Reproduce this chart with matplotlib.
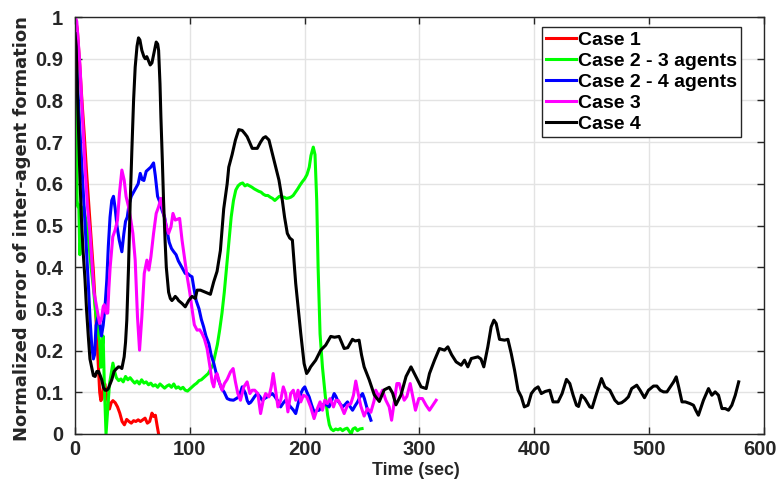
import matplotlib
matplotlib.use("Agg")
import matplotlib.pyplot as plt
import matplotlib.transforms as mtransforms

plt.rcParams['font.family'] = ['Liberation Sans', 'DejaVu Sans']
plt.rcParams['font.weight'] = 'bold'

# ---- data: time (sec) and normalized inter-agent formation error ----
case1_t = [0, 2, 4, 6, 8, 10, 12, 14, 16, 18, 20, 21.5, 22.5, 23.5, 24.5, 26, 27, 28.5, 30,
           31.5, 33, 35, 37, 39, 41, 43, 45, 47, 49, 51, 53, 55, 57, 59, 61, 63, 65, 67,
           68.5, 70, 71.5, 72.8]
case1_v = [1.0, 0.97, 0.89, 0.80, 0.72, 0.63, 0.55, 0.47, 0.39, 0.29, 0.18, 0.10, 0.08,
           0.085, 0.11, 0.12, 0.10, 0.08, 0.06, 0.075, 0.08, 0.075, 0.065, 0.05, 0.03,
           0.022, 0.035, 0.03, 0.026, 0.032, 0.03, 0.034, 0.03, 0.034, 0.038, 0.026, 0.03,
           0.05, 0.042, 0.045, 0.02, 0.0]

case2a_t = [0, 1, 1.8, 2.5, 3.3, 4.2, 5, 6, 7.5, 9, 10.5, 12, 14, 16, 18, 20, 21.5, 22.5,
            23.5, 24.5, 25.5, 27, 28.5, 30, 31.5, 33, 34.5, 36, 38, 40, 42, 44, 46, 48, 50,
            52, 54, 56, 58, 60, 62, 64, 66, 68, 70, 72, 74, 76, 78, 80, 82, 84, 86, 88, 90,
            92, 94, 96, 98, 100, 102, 104, 106, 108, 110, 112, 114, 116, 118, 120, 122, 124,
            126, 128, 130, 132, 134, 136, 138, 140, 142, 144, 146, 148, 150, 152, 154, 156,
            158, 160, 162, 164, 166, 168, 170, 172, 174, 176, 178, 180, 182, 184, 186, 188,
            190, 192, 194, 196, 198, 200, 202, 204, 205.5, 207.5, 209, 210.5, 211.7, 213.4,
            215.5, 218, 220, 221.5, 223, 225, 227, 229, 231, 233, 235, 237, 239, 240.5, 242,
            244, 246, 248, 250]
case2a_v = [1.0, 0.99, 0.56, 0.545, 0.55, 0.43, 0.47, 0.53, 0.545, 0.52, 0.50, 0.46, 0.40,
            0.35, 0.29, 0.25, 0.22, 0.16, 0.20, 0.235, 0.12, 0.0, 0.06, 0.12, 0.145, 0.17,
            0.15, 0.135, 0.128, 0.132, 0.125, 0.138, 0.13, 0.135, 0.128, 0.122, 0.127, 0.12,
            0.13, 0.122, 0.125, 0.118, 0.122, 0.115, 0.118, 0.112, 0.12, 0.115, 0.11, 0.115,
            0.118, 0.112, 0.12, 0.11, 0.113, 0.108, 0.112, 0.105, 0.103, 0.108, 0.113, 0.118,
            0.122, 0.128, 0.13, 0.135, 0.14, 0.145, 0.155, 0.165, 0.19, 0.215, 0.25, 0.29,
            0.34, 0.40, 0.46, 0.52, 0.56, 0.585, 0.595, 0.60, 0.602, 0.595, 0.598, 0.595,
            0.592, 0.588, 0.585, 0.582, 0.58, 0.575, 0.572, 0.572, 0.568, 0.565, 0.56, 0.565,
            0.57, 0.568, 0.568, 0.565, 0.566, 0.568, 0.572, 0.58, 0.588, 0.597, 0.605, 0.612,
            0.622, 0.64, 0.668, 0.688, 0.67, 0.56, 0.40, 0.24, 0.16, 0.09, 0.045, 0.022,
            0.012, 0.008, 0.012, 0.01, 0.013, 0.008, 0.012, 0.014, 0.006, 0.0, 0.012, 0.015,
            0.008, 0.012, 0.013]

case2b_t = [0, 2, 4, 6, 8, 10, 11.6, 13, 14.6, 16, 17, 18.3, 20, 21.5, 23, 24.5, 26, 27.7,
            29, 30.5, 32, 33.5, 35, 36.5, 38.5, 40.8, 42.5, 44, 45.5, 47, 49, 51, 53, 55,
            56.8, 58.5, 60, 62, 64, 66, 68.4, 69.9, 71.9, 74, 76, 78, 80, 82, 84, 86, 88,
            90, 92, 94, 96, 98, 100, 101.9, 103.5, 105.5, 108, 110, 112, 114, 116.5, 118.5,
            120.8, 123, 125, 127.5, 130, 132.5, 135, 138, 141, 143, 145.6, 147, 148.5, 150,
            151.4, 153, 154.3, 156.5, 158.7, 161, 163, 165, 167.4, 169.5, 171.8, 174, 176.2,
            179.1, 181.5, 183.4, 185.5, 187.8, 190, 192.2, 194.5, 196.6, 198.5, 200.1, 202,
            203.9, 206, 208.2, 210.5, 212.6, 215, 217, 219, 221.3, 223.5, 225.7, 227.2,
            228.6, 231, 233, 235, 237.3, 239.5, 241.7, 244, 246.1, 248, 250.4, 252, 253.3,
            255, 256.5, 257.7]
case2b_v = [0.96, 0.85, 0.74, 0.64, 0.54, 0.44, 0.36, 0.28, 0.21, 0.18, 0.19, 0.26, 0.28,
            0.265, 0.235, 0.26, 0.30, 0.37, 0.45, 0.52, 0.56, 0.57, 0.54, 0.50, 0.465, 0.437,
            0.48, 0.51, 0.52, 0.55, 0.57, 0.58, 0.59, 0.60, 0.625, 0.61, 0.608, 0.63, 0.635,
            0.64, 0.65, 0.62, 0.57, 0.555, 0.535, 0.52, 0.49, 0.46, 0.445, 0.437, 0.43, 0.415,
            0.405, 0.395, 0.385, 0.385, 0.38, 0.377, 0.35, 0.32, 0.30, 0.275, 0.257, 0.235,
            0.217, 0.19, 0.17, 0.145, 0.129, 0.11, 0.10, 0.085, 0.082, 0.081, 0.086, 0.09,
            0.113, 0.105, 0.097, 0.08, 0.073, 0.076, 0.081, 0.09, 0.097, 0.09, 0.081, 0.085,
            0.089, 0.093, 0.097, 0.09, 0.081, 0.065, 0.075, 0.081, 0.072, 0.065, 0.058, 0.049,
            0.075, 0.097, 0.108, 0.113, 0.10, 0.089, 0.07, 0.053, 0.056, 0.057, 0.066, 0.073,
            0.07, 0.065, 0.08, 0.097, 0.09, 0.081, 0.072, 0.065, 0.07, 0.077, 0.066, 0.057,
            0.068, 0.077, 0.088, 0.097, 0.085, 0.072, 0.055, 0.043, 0.033]

case3_t = [0, 1.5, 4.4, 6.5, 8.7, 11, 13.1, 15, 16.5, 18.5, 20.4, 21.5, 23.3, 24.5, 25.5,
           27, 28.5, 29.5, 30.6, 32.9, 34.9, 37, 38.7, 40.8, 42.8, 44.5, 46.6, 48.6, 50.4,
           52.4, 54.4, 56.2, 58.2, 60.3, 62.6, 64.3, 66.1, 68.4, 70.7, 72.8, 74.8, 77.1,
           79.5, 81.5, 83.6, 85.3, 87.3, 89.2, 91.1, 93.2, 95.2, 97.5, 99.9, 101.9, 103.9,
           106.3, 108.6, 110.6, 112.7, 115, 117.3, 119.4, 120.8, 122.5, 123.7, 126.1, 128.1,
           130.1, 132.5, 135.4, 137.7, 139.7, 141.8, 144.1, 147, 149.9, 152.3, 154.3, 156.5,
           159.2, 161.6, 163.9, 166, 168.9, 170.9, 172.6, 174.7, 176.7, 179.1, 181.4, 183.4,
           185.4, 187.8, 190.1, 192.2, 194.2, 196.6, 198.9, 201.8, 205.2, 208.2, 210.5,
           213.4, 215.5, 217.5, 219.8, 222.1, 225.1, 227.1, 229.5, 232, 234.4, 237.3, 240.2,
           242.5, 244.5, 246.6, 248.9, 251.8, 254.7, 257.6, 260.5, 261.9, 264.9, 267.8,
           270.7, 273.6, 275.7, 278, 280.3, 282.4, 284.7, 286.7, 289, 291.9, 293.6, 296.5,
           299.4, 302.5, 305.7, 308.7, 311.6, 314.5]
case3_v = [1.0, 0.99, 0.88, 0.76, 0.64, 0.54, 0.48, 0.40, 0.34, 0.31, 0.28, 0.265, 0.28,
           0.305, 0.31, 0.29, 0.29, 0.35, 0.40, 0.473, 0.489, 0.513, 0.577, 0.633, 0.609,
           0.569, 0.545, 0.513, 0.481, 0.417, 0.281, 0.201, 0.281, 0.385, 0.417, 0.393,
           0.425, 0.481, 0.529, 0.545, 0.565, 0.529, 0.497, 0.481, 0.497, 0.529, 0.513,
           0.515, 0.517, 0.465, 0.425, 0.38, 0.34, 0.30, 0.262, 0.249, 0.25, 0.241, 0.228,
           0.205, 0.165, 0.125, 0.113, 0.14, 0.145, 0.121, 0.105, 0.121, 0.131, 0.149, 0.157,
           0.125, 0.097, 0.081, 0.113, 0.125, 0.097, 0.105, 0.105, 0.097, 0.049, 0.081,
           0.097, 0.089, 0.113, 0.145, 0.105, 0.065, 0.081, 0.113, 0.097, 0.053, 0.097,
           0.105, 0.081, 0.105, 0.077, 0.093, 0.089, 0.065, 0.037, 0.057, 0.077, 0.057,
           0.081, 0.073, 0.085, 0.065, 0.081, 0.08, 0.065, 0.049, 0.069, 0.073, 0.093,
           0.127, 0.097, 0.067, 0.043, 0.061, 0.052, 0.08, 0.105, 0.089, 0.105, 0.081,
           0.065, 0.033, 0.077, 0.121, 0.121, 0.097, 0.081, 0.09, 0.121, 0.097, 0.057,
           0.085, 0.085, 0.069, 0.057, 0.069, 0.081]

case4_t = [0, 1, 2.5, 4, 5.5, 7, 8.7, 10, 11.6, 13, 14.5, 16, 17.5, 19, 20.5, 22, 23.3,
           24.7, 26.2, 27.7, 29, 30.6, 32, 34, 35.5, 37.8, 39.5, 40.8, 42.8, 44, 45.1, 46.6,
           48, 49.5, 51, 52.4, 54, 55.3, 56.5, 58.2, 60, 61.1, 62.5, 64, 65.5, 67, 68.5,
           70.7, 72, 72.8, 74, 74.8, 76, 77.1, 78.5, 79.5, 81.5, 83, 84.4, 86, 87.3, 89,
           90.2, 93.2, 96, 99, 100.4, 101.9, 104.8, 106.3, 109.2, 113.5, 117.9, 120.8, 123.7,
           126.6, 129.5, 132.5, 133.9, 136.8, 139.7, 142.6, 145.6, 148, 149.9, 152, 154.3,
           158.7, 161.6, 164, 166, 168.9, 171.8, 174.7, 177.6, 180.5, 182.5, 184.9, 187,
           189.3, 192.2, 196.6, 199.5, 201.7, 203.5, 205.2, 209.6, 214, 218.3, 222.7, 226,
           230, 234.4, 237.5, 241.6, 244, 247.4, 249.5, 251.8, 256.2, 260.6, 265, 269.3,
           273.7, 276.6, 279.5, 283.9, 288.3, 292.6, 297, 301.4, 305.8, 308.7, 313.1, 317.4,
           321.8, 324.7, 328, 331.9, 336.3, 339.2, 342.1, 345.1, 350.9, 353.5, 356, 359.5,
           362.4, 364.8, 366.8, 369.7, 374.1, 377, 379.9, 382.8, 385.8, 388.7, 391.3, 394.5,
           397.4, 400.5, 403.3, 406.1, 409.5, 413.4, 416.3, 420.7, 424.2, 428, 430.9, 433.8,
           436.7, 438.5, 441.1, 444, 448.3, 450.4, 454.2, 458.5, 461.5, 465.8, 470.2, 473.1,
           476, 479, 481.9, 484.8, 489.2, 492.1, 495.9, 499.4, 503.8, 506.7, 509.6, 512.5,
           515.5, 518.4, 521.3, 523.6, 525.7, 528.6, 531.5, 535.6, 538.6, 540.6, 542.9,
           547.3, 551.7, 554.6, 557.5, 560.4, 563.4, 566.3, 569.1, 572, 575, 578]
case4_v = [0.96, 0.93, 0.78, 0.64, 0.52, 0.44, 0.37, 0.30, 0.233, 0.18, 0.16, 0.14, 0.138,
           0.15, 0.15, 0.14, 0.13, 0.112, 0.105, 0.105, 0.109, 0.12, 0.13, 0.15, 0.155,
           0.161, 0.16, 0.157, 0.185, 0.22, 0.273, 0.40, 0.55, 0.68, 0.80, 0.88, 0.93, 0.95,
           0.945, 0.92, 0.905, 0.90, 0.905, 0.895, 0.885, 0.89, 0.91, 0.94, 0.935, 0.92,
           0.84, 0.76, 0.66, 0.56, 0.46, 0.40, 0.34, 0.325, 0.32, 0.325, 0.33, 0.325, 0.32,
           0.313, 0.305, 0.32, 0.325, 0.33, 0.325, 0.345, 0.345, 0.34, 0.335, 0.365, 0.39,
           0.44, 0.54, 0.60, 0.64, 0.67, 0.705, 0.73, 0.728, 0.72, 0.713, 0.70, 0.685, 0.685,
           0.70, 0.71, 0.713, 0.705, 0.673, 0.641, 0.609, 0.561, 0.52, 0.481, 0.47, 0.465,
           0.361, 0.241, 0.169, 0.145, 0.152, 0.161, 0.177, 0.201, 0.213, 0.234, 0.232,
           0.234, 0.205, 0.207, 0.227, 0.223, 0.225, 0.19, 0.161, 0.13, 0.094, 0.078, 0.106,
           0.112, 0.098, 0.07, 0.094, 0.138, 0.161, 0.137, 0.113, 0.109, 0.145, 0.177, 0.205,
           0.201, 0.209, 0.19, 0.173, 0.165, 0.177, 0.161, 0.181, 0.185, 0.18, 0.161, 0.209,
           0.257, 0.273, 0.265, 0.227, 0.225, 0.227, 0.193, 0.153, 0.105, 0.089, 0.065,
           0.069, 0.097, 0.108, 0.113, 0.097, 0.102, 0.105, 0.077, 0.077, 0.097, 0.131,
           0.121, 0.093, 0.069, 0.066, 0.093, 0.085, 0.065, 0.063, 0.097, 0.133, 0.113,
           0.105, 0.081, 0.073, 0.075, 0.081, 0.089, 0.109, 0.117, 0.105, 0.087, 0.105,
           0.115, 0.115, 0.105, 0.101, 0.101, 0.113, 0.125, 0.137, 0.113, 0.077, 0.077,
           0.073, 0.069, 0.057, 0.045, 0.081, 0.109, 0.093, 0.101, 0.093, 0.061, 0.061,
           0.057, 0.069, 0.093, 0.125]

labels = ['Case 1', 'Case 2 - 3 agents', 'Case 2 - 4 agents', 'Case 3', 'Case 4']
colors = ['#ff0000', '#00ff00', '#0000ff', '#ff00ff', '#000000']
x_ticks = [0, 100, 200, 300, 400, 500, 600]
y_ticks = [0, 0.1, 0.2, 0.3, 0.4, 0.5, 0.6, 0.7, 0.8, 0.9, 1]
y_tick_labels = ['0', '0.1', '0.2', '0.3', '0.4', '0.5', '0.6', '0.7', '0.8', '0.9', '1']

series = [(case1_t, case1_v), (case2a_t, case2a_v), (case2b_t, case2b_v),
          (case3_t, case3_v), (case4_t, case4_v)]

fig = plt.figure(figsize=(7.79, 4.86), dpi=100)
ax = fig.add_axes([0.0963, 0.107, 0.8844, 0.858])

for (t, v), lab, col in zip(series, labels, colors):
    ax.plot(t, v, color=col, lw=2.2, label=lab, solid_joinstyle='round')

ax.set_xlim(0, 600)
ax.set_ylim(0, 1)
ax.set_xticks(x_ticks)
ax.set_yticks(y_ticks)
ax.set_yticklabels(y_tick_labels)
ax.grid(True, color='#e3e3e3', lw=1.0)
ax.set_axisbelow(True)
for sp in ax.spines.values():
    sp.set_color('#262626')
    sp.set_linewidth(1.0)
ax.tick_params(direction='in', top=True, right=True, length=5, width=1.0,
               colors='#262626', labelsize=14.5)
ax.tick_params(axis='x', pad=4.5)
ax.tick_params(axis='y', pad=8.5)
for lbl in ax.get_xticklabels() + ax.get_yticklabels():
    lbl.set_fontweight('bold')

# keep the last x tick label inside the figure edge
last = ax.get_xticklabels()[-1]
last.set_transform(last.get_transform() +
                   mtransforms.ScaledTranslation(-4 / 100, 0, fig.dpi_scale_trans))

ax.set_xlabel('Time (sec)', fontsize=12.8, fontweight='bold', color='#262626')
ax.xaxis.set_label_coords(0.495, -0.066)
ax.set_ylabel('Normalized error of inter-agent formation', fontsize=13,
              fontweight='bold', color='#262626', family='DejaVu Sans')
ax.yaxis.set_label_coords(-0.064, 0.4916)

leg = ax.legend(loc='upper left', bbox_to_anchor=(0.678, 0.976), borderaxespad=0,
                fancybox=False, edgecolor='#262626', framealpha=1,
                prop={'weight': 'bold', 'size': 14}, handlelength=1.55, handletextpad=0.1,
                labelspacing=0.18, borderpad=0.2)
leg.get_frame().set_linewidth(1.0)

fig.savefig('out.png', dpi=100)
